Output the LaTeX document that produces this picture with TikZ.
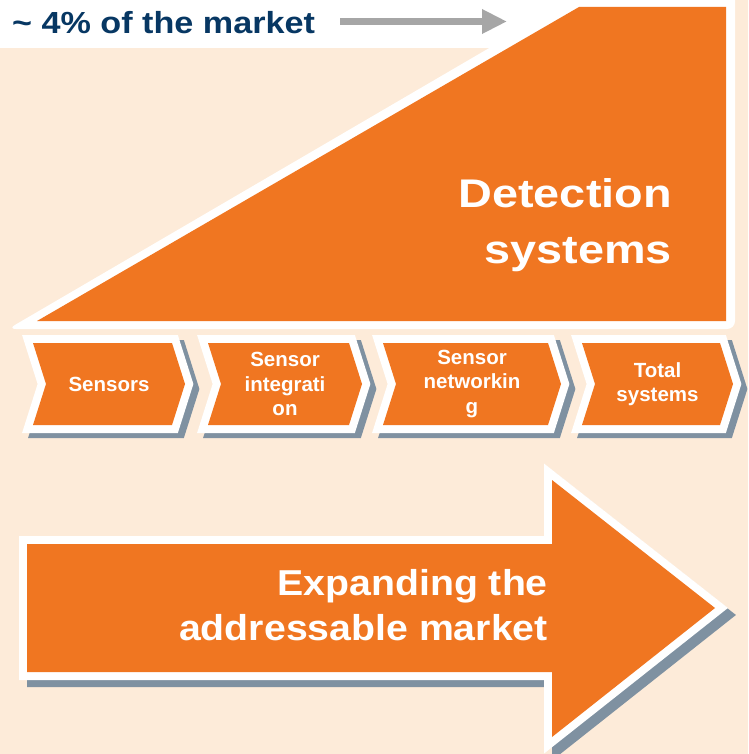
\documentclass[tikz,border=0pt]{standalone}
\usepackage{fontspec}
\setmainfont{Liberation Sans}
\newfontfamily\detfont{Liberation Sans}[FakeStretch=1.17]
\newfontfamily\expfont{Liberation Sans}[FakeStretch=1.09]
\newfontfamily\topfont{Liberation Sans}[FakeStretch=1.12]
\usetikzlibrary{arrows.meta}
\definecolor{peach}{HTML}{FDEBD9}
\definecolor{orng}{HTML}{F07621}
\definecolor{shadowc}{HTML}{7F91A1}
\definecolor{navy}{HTML}{073763}
\definecolor{arrgray}{HTML}{A6A6A6}
\tikzset{
  whiteframe/.style={draw=white, line width=16pt, line join=miter, fill=orng},
  shadowframe/.style={draw=shadowc, line width=16pt, line join=miter, fill=shadowc},
  orangefill/.style={fill=orng},
  chevtext/.style={text=white, inner sep=0pt, align=center,
    font=\bfseries\fontsize{20.5}{24.5}\selectfont},
  bigtext/.style={text=white, inner sep=0pt},
  gray arrow/.style={draw=arrgray, line width=7pt,
    -{Triangle[length=25pt,width=23pt]}},
}
\begin{document}
\begin{tikzpicture}[x=1pt,y=-1pt]
\useasboundingbox (0,0) rectangle (748,754);
\fill[peach] (0,0) rectangle (748,754);
% top label box
\fill[white] (0,0) rectangle (600,48);
\node[anchor=base west, inner sep=0pt, text=navy,
  font=\topfont\bfseries\fontsize{30.5}{34}\selectfont] (share) at (12,34)
  {\textasciitilde{} 4\% of the market};
\coordinate (arrstart) at (340,21.5);
\coordinate (arrend) at (507,21.5);
\draw[gray arrow] (arrstart) -- (arrend);
% detection triangle
\fill[white, rounded corners=8pt] (8,329) -- (735,329) -- (735,-12) -- (592,-12) -- cycle;
\fill[orng] (37,321) -- (726,321) -- (726,7) -- (579,7) -- cycle;
\node[bigtext, anchor=base east,
  font=\detfont\bfseries\fontsize{40}{56}\selectfont] (detect) at (672,207)
  {\begin{tabular}[t]{@{}r@{}}Detection\\systems\end{tabular}};
% chevrons
\foreach \L/\R/\n in {33/172/c1, 208/349/c2, 383/548/c3, 582/720/c4}{
  \fill[shadowframe, shift={(6,5)}]
    (\L,343) -- (\R,343) -- (\R+13,384) -- (\R,425) -- (\L,425) -- (\L+13,384) -- cycle;
  \filldraw[whiteframe]
    (\L,343) -- (\R,343) -- (\R+13,384) -- (\R,425) -- (\L,425) -- (\L+13,384) -- cycle;
  \fill[orangefill]
    (\L,343) -- (\R,343) -- (\R+13,384) -- (\R,425) -- (\L,425) -- (\L+13,384) -- cycle;
  \coordinate (\n) at ({(\L+\R+13)/2},384);
}
\node[chevtext] (sensors) at (c1) {Sensors};
\node[chevtext] (integration) at (c2) {Sensor\\integrati\\on};
\node[chevtext] (networking) at (c3) {Sensor\\networkin\\g};
\node[chevtext] (total) at (c4) {Total\\systems};
% big arrow
\filldraw[shadowframe, shift={(8,7)}]
  (27,544) -- (552,544) -- (552,480) -- (715,608) -- (552,737) -- (552,672) -- (27,672) -- cycle;
\filldraw[whiteframe]
  (27,544) -- (552,544) -- (552,480) -- (715,608) -- (552,737) -- (552,672) -- (27,672) -- cycle;
\fill[orangefill]
  (27,544) -- (552,544) -- (552,480) -- (715,608) -- (552,737) -- (552,672) -- (27,672) -- cycle;
\node[bigtext, anchor=base east,
  font=\expfont\bfseries\fontsize{36}{45}\selectfont] (expand) at (548,595)
  {\begin{tabular}[t]{@{}r@{}}Expanding the\\addressable market\end{tabular}};
\end{tikzpicture}
\end{document}
